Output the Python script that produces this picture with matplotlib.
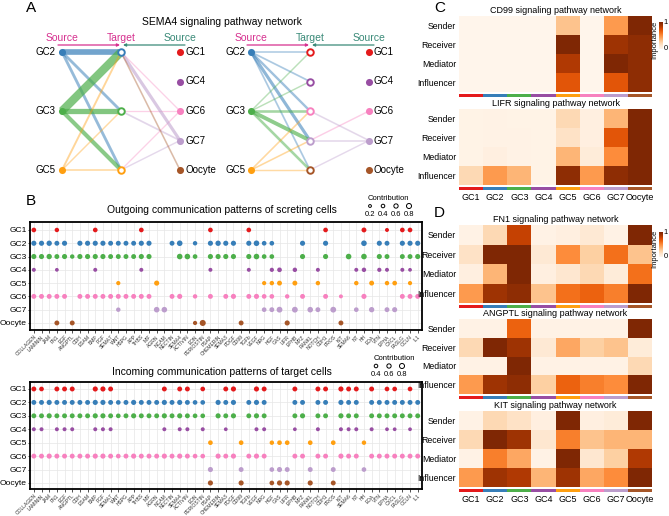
import numpy as np
import matplotlib
matplotlib.use("Agg")
import matplotlib.pyplot as plt

plt.rcParams['font.family'] = ['Liberation Sans', 'DejaVu Sans']

W, H = 669, 516
fig = plt.figure(figsize=(W / 100, H / 100), dpi=100)

# ---------------- data ----------------
cells = ["GC1", "GC2", "GC3", "GC4", "GC5", "GC6", "GC7", "Oocyte"]
cell_colors = ["#e41a1c", "#377eb8", "#4daf4a", "#984ea3", "#ff9f10", "#f781bf", "#bc9dcc", "#a65628"]
roles = ["Sender", "Receiver", "Mediator", "Influencer"]

# Panel A: SEMA4 hierarchy networks (source, target, relative weight)
net1_targets = ["GC2", "GC3", "GC5"]
net1_src = ["GC2", "GC2", "GC2", "GC3", "GC3", "GC3", "GC5", "GC5", "GC5",
            "GC6", "GC6", "GC6", "GC7", "GC7", "GC7", "Oocyte"]
net1_tgt = ["GC2", "GC3", "GC5", "GC2", "GC3", "GC5", "GC2", "GC3", "GC5",
            "GC2", "GC3", "GC5", "GC2", "GC3", "GC5", "GC2"]
net1_w = [0.65, 0.28, 0.28, 1.0, 0.6, 0.45, 0.16, 0.1, 0.12,
          0.08, 0.08, 0.08, 0.32, 0.14, 0.1, 0.12]

net2_targets = ["GC1", "GC4", "GC6", "GC7", "Oocyte"]
net2_src = ["GC2", "GC2", "GC2", "GC2", "GC2", "GC3", "GC3", "GC3", "GC3", "GC3",
            "GC5", "GC5", "GC5", "GC6", "GC7", "GC7", "GC7"]
net2_tgt = ["GC1", "GC4", "GC6", "GC7", "Oocyte", "GC1", "GC4", "GC6", "GC7", "Oocyte",
            "GC6", "GC7", "Oocyte", "GC7", "GC6", "GC7", "Oocyte"]
net2_w = [0.12, 0.14, 0.22, 0.32, 0.14, 0.1, 0.1, 0.25, 0.42, 0.25,
          0.12, 0.12, 0.1, 0.1, 0.12, 0.12, 0.1]

left_sources = ["GC2", "GC3", "GC5"]
right_sources = ["GC1", "GC4", "GC6", "GC7", "Oocyte"]

# Panel B: pathways
pathways = ["COLLAGEN", "LAMININ", "JAM", "FN1", "EGF", "ANGPTL", "CDH", "ESAM", "BMP", "FGF",
            "SEMA7", "WNT", "HSPG", "APP", "THBS", "MIF", "AGRN", "NCAM", "NECTIN", "SEMA4",
            "ACTIVIN", "EDN", "PERIOSTIN", "PSAP", "CHEMERIN", "SEMA3", "PDGF", "CD99", "TGFb", "VEGF",
            "NRG", "HGF", "GAS", "LIFR", "EPHB", "MPZ", "RANKL", "NOTCH", "CDH1", "PROS",
            "KIT", "SEMA6", "NT", "HH", "EDA", "VTN", "EPHA", "CXCL", "FASLG", "OCLN", "IL1"]

out_GC1 = {0: .45, 3: .4, 8: .45, 14: .45, 23: .45, 28: .45, 38: .45, 43: .5, 46: .3, 48: .45, 49: .45}
out_GC2 = {0: .55, 1: .55, 2: .6, 3: .5, 4: .55, 6: .55, 7: .55, 8: .55, 9: .55, 10: .5, 11: .5,
           12: .5, 13: .5, 14: .55, 15: .55, 18: .5, 19: .65, 21: .4, 23: .55, 24: .6, 25: .55,
           26: .55, 28: .55, 29: .65, 30: .45, 31: .45, 35: .55, 38: .55, 43: .65, 45: .55,
           46: .5, 48: .55, 49: .55, 50: .55}
out_GC3 = {0: .55, 1: .55, 2: .6, 3: .5, 4: .55, 5: .4, 6: .55, 7: .55, 8: .55, 9: .55, 10: .5,
           11: .5, 12: .5, 13: .5, 14: .55, 15: .55, 19: .65, 20: .65, 21: .45, 23: .55, 24: .55,
           25: .55, 26: .55, 28: .55, 29: .65, 30: .45, 31: .45, 35: .55, 38: .55, 41: .65,
           43: .65, 45: .55, 46: .5, 48: .5, 49: .5, 50: .55}
out_GC4 = {0: .3, 3: .25, 8: .3, 14: .3, 23: .3, 28: .3, 31: .35, 32: .45, 34: .4, 37: .3,
           42: .3, 43: .4, 45: .35, 46: .3, 48: .3, 49: .25}
out_GC5 = {11: .35, 16: .55, 30: .35, 31: .4, 32: .5, 34: .5, 37: .4, 42: .4, 44: .5, 46: .4,
           47: .45, 49: .35}
out_GC6 = {0: .5, 1: .5, 2: .5, 3: .5, 4: .5, 6: .5, 7: .5, 8: .5, 9: .5, 10: .5, 11: .5,
           12: .5, 13: .5, 14: .5, 15: .5, 18: .5, 19: .55, 21: .4, 23: .5, 25: .5, 26: .55,
           28: .5, 29: .55, 30: .45, 31: .45, 33: .4, 35: .5, 38: .5, 40: .3, 43: .55, 48: .5,
           49: .5, 50: .5}
out_GC7 = {11: .4, 16: .65, 17: .65, 30: .45, 31: .5, 32: .7, 34: .7, 36: .65, 37: .5, 39: .7,
           42: .45, 44: .6, 46: .5, 47: .55}
out_Oocyte = {3: .5, 5: .5, 21: .35, 22: .75, 27: .5, 33: .55, 40: .5}

in_GC1 = {0: .5, 1: .45, 3: .5, 4: .5, 5: .5, 8: .55, 9: .55, 10: .5, 17: .5, 19: .5, 20: .5,
          22: .45, 25: .5, 26: .55, 29: .55, 30: .5, 34: .5, 37: .5, 38: .5, 40: .55, 41: .5,
          42: .5, 44: .5, 46: .45, 47: .45, 49: .45}
in_GC2 = {0: .5, 1: .5, 2: .55, 3: .5, 4: .5, 5: .5, 6: .5, 7: .5, 8: .55, 9: .55, 10: .5,
          11: .45, 12: .5, 13: .55, 14: .5, 15: .5, 16: .5, 17: .55, 18: .5, 19: .55, 20: .5,
          21: .45, 22: .45, 24: .55, 25: .5, 26: .55, 28: .5, 29: .55, 30: .5, 34: .5, 35: .5,
          37: .5, 38: .5, 40: .55, 41: .5, 42: .5, 44: .5, 45: .5, 46: .5, 47: .5, 48: .5,
          49: .5, 50: .5}
in_GC3 = {0: .5, 1: .5, 2: .55, 3: .5, 4: .5, 5: .5, 6: .5, 7: .5, 8: .55, 9: .55, 10: .5,
          11: .45, 12: .5, 13: .55, 14: .5, 15: .5, 16: .5, 17: .55, 18: .5, 19: .55, 20: .5,
          21: .45, 22: .45, 24: .55, 25: .5, 26: .55, 28: .5, 29: .55, 30: .5, 34: .5, 35: .55,
          37: .5, 38: .5, 40: .55, 41: .5, 42: .5, 44: .5, 45: .5, 46: .5, 47: .5, 48: .5,
          49: .5, 50: .5}
in_GC4 = {0: .3, 1: .3, 3: .3, 4: .3, 5: .3, 8: .3, 9: .3, 10: .3, 17: .3, 19: .3, 20: .3,
          22: .3, 25: .25, 29: .3, 30: .3, 34: .25, 37: .3, 40: .3, 41: .3, 42: .3, 44: .3,
          46: .25, 47: .25, 49: .25}
in_GC5 = {23: .45, 27: .45, 31: .4, 32: .45, 33: .45, 36: .45, 39: .45, 43: .4}
in_GC6 = {0: .5, 1: .5, 2: .55, 3: .5, 4: .5, 5: .5, 6: .5, 7: .5, 8: .55, 9: .55, 10: .5,
          11: .45, 12: .5, 13: .55, 14: .5, 15: .5, 16: .5, 17: .55, 18: .5, 19: .55, 20: .5,
          21: .45, 22: .45, 24: .55, 25: .5, 26: .55, 28: .5, 29: .55, 30: .5, 34: .5, 35: .5,
          37: .5, 38: .5, 40: .55, 41: .5, 42: .5, 44: .5, 45: .5, 46: .5, 47: .5, 48: .5,
          49: .5, 50: .5}
in_GC7 = {23: .55, 27: .5, 31: .45, 32: .55, 33: .5, 36: .5, 39: .5, 43: .45}
in_Oocyte = {23: .55, 27: .55, 31: .45, 32: .55, 33: .55, 36: .55, 39: .5}

outgoing = [out_GC1, out_GC2, out_GC3, out_GC4, out_GC5, out_GC6, out_GC7, out_Oocyte]
incoming = [in_GC1, in_GC2, in_GC3, in_GC4, in_GC5, in_GC6, in_GC7, in_Oocyte]

# Panel C / D heatmaps (rows: Sender, Receiver, Mediator, Influencer)
cd99 = [[0.0, 0.0, 0.0, 0.0, 0.3, 0.0, 0.45, 1.0],
        [0.0, 0.0, 0.0, 0.0, 1.0, 0.0, 0.9, 0.95],
        [0.0, 0.0, 0.0, 0.0, 0.85, 0.0, 1.0, 0.95],
        [0.0, 0.0, 0.0, 0.0, 0.7, 0.0, 0.7, 0.95]]
lifr = [[0.02, 0.03, 0.02, 0.02, 0.2, 0.05, 0.35, 1.0],
        [0.02, 0.03, 0.03, 0.02, 0.15, 0.05, 0.7, 1.0],
        [0.02, 0.05, 0.03, 0.02, 0.35, 0.08, 0.5, 1.0],
        [0.2, 0.45, 0.35, 0.02, 0.95, 0.45, 0.95, 1.0]]
fn1 = [[0.03, 0.2, 0.8, 0.03, 0.05, 0.1, 0.03, 1.0],
       [0.15, 1.0, 1.0, 0.1, 0.5, 0.25, 0.6, 0.3],
       [0.05, 0.35, 1.0, 0.05, 0.12, 0.2, 0.08, 0.6],
       [0.45, 0.9, 0.95, 0.3, 0.6, 0.65, 0.55, 1.0]]
angptl = [[0.03, 0.03, 0.65, 0.03, 0.03, 0.03, 0.03, 1.0],
          [0.2, 1.0, 0.9, 0.1, 0.4, 0.25, 0.3, 0.08],
          [0.03, 0.03, 1.0, 0.03, 0.03, 0.03, 0.03, 0.2],
          [0.45, 0.9, 0.95, 0.25, 0.65, 0.55, 0.5, 1.0]]
kit = [[0.03, 0.2, 0.15, 0.05, 1.0, 0.05, 0.08, 1.0],
       [0.2, 1.0, 0.9, 0.12, 0.55, 0.3, 0.35, 0.35],
       [0.03, 0.55, 0.4, 0.03, 1.0, 0.12, 0.25, 0.85],
       [0.45, 0.9, 0.85, 0.35, 0.9, 0.4, 0.5, 1.0]]

# ---------------- helpers ----------------
def add_ax(x0, y0, x1, y1, **kw):
    return fig.add_axes([x0 / W, 1 - y1 / H, (x1 - x0) / W, (y1 - y0) / H], **kw)

ov = fig.add_axes([0, 0, 1, 1], zorder=5)
ov.set_xlim(0, W)
ov.set_ylim(H, 0)
ov.axis('off')

color_of = dict(zip(cells, cell_colors))
MAG = "#d6308f"
TEAL = "#3a8a78"

def dot_d(v):
    return (2.6 + 4.6 * np.asarray(v)) * 0.72

# panel letters
for letter, (x, y) in zip("ABCD", [(26, 8), (26, 201), (434, 8), (434, 213)]):
    ov.text(x, y, letter, fontsize=11, ha='left', va='center')

# ---------------- Panel A ----------------
ov.text(222, 22, "SEMA4 signaling pathway network", fontsize=7.5, ha='center', va='center')

def draw_network(x0, targets, srcs, tgts, ws, hdr_colors):
    xl, xm, xr = x0, x0 + 59, x0 + 118
    ys3 = np.linspace(52, 170, 3)
    ys5 = np.linspace(52, 170, 5)
    lpos = {n: (xl, y) for n, y in zip(left_sources, ys3)}
    rpos = {n: (xr, y) for n, y in zip(right_sources, ys5)}
    ty = ys3 if len(targets) == 3 else ys5
    tpos = {n: (xm, y) for n, y in zip(targets, ty)}
    for s, t, w in zip(srcs, tgts, ws):
        p0 = lpos[s] if s in lpos else rpos[s]
        p1 = tpos[t]
        ov.plot([p0[0], p1[0]], [p0[1], p1[1]], color=color_of[s], lw=0.5 + w * 5.5,
                alpha=0.3 + 0.4 * min(w * 2, 1), solid_capstyle='butt', zorder=1)
    for n, (x, y) in lpos.items():
        ov.scatter([x], [y], s=26, color=color_of[n], zorder=3, linewidths=0)
        ov.text(x - 6, y, n, ha='right', va='center', fontsize=7)
    for n, (x, y) in rpos.items():
        ov.scatter([x], [y], s=26, color=color_of[n], zorder=3, linewidths=0)
        ov.text(x + 5, y, n, ha='left', va='center', fontsize=7)
    for n, (x, y) in tpos.items():
        ov.scatter([x], [y], s=22, facecolor='white', edgecolor=color_of[n], linewidths=1.4, zorder=3)
    ov.text(xl, 38, "Source", color=hdr_colors[0], fontsize=7.5, ha='center', va='center')
    ov.text(xm, 38, "Target", color=hdr_colors[1], fontsize=7.5, ha='center', va='center')
    ov.text(xr, 38, "Source", color=hdr_colors[2], fontsize=7.5, ha='center', va='center')
    ov.annotate('', xy=(xm - 1, 45), xytext=(xl - 4, 45),
                arrowprops=dict(arrowstyle='-|>', color=hdr_colors[0], lw=0.9, mutation_scale=4,
                                shrinkA=0, shrinkB=0))
    ov.annotate('', xy=(xm + 2, 45), xytext=(xr + 5, 45),
                arrowprops=dict(arrowstyle='-|>', color=TEAL, lw=0.9, mutation_scale=4,
                                shrinkA=0, shrinkB=0))

draw_network(62, net1_targets, net1_src, net1_tgt, net1_w, [MAG, MAG, TEAL])
draw_network(251, net2_targets, net2_src, net2_tgt, net2_w, [MAG, TEAL, TEAL])

# ---------------- Panel B ----------------
def dot_panel(y0, y1, pad_top, pad_bot, data):
    ax = add_ax(30, y0, 422, y1)
    ax.set_xlim(-0.5, len(pathways) - 0.44)
    ax.set_ylim(len(cells) - 1 + pad_bot, -pad_top)
    for i, row in enumerate(data):
        xs = list(row.keys())
        vs = np.array(list(row.values()))
        ax.scatter(xs, [i] * len(xs), s=dot_d(vs) ** 2, color=cell_colors[i], linewidths=0,
                   zorder=3, clip_on=False)
    ax.set_xticks(np.arange(len(pathways)))
    ax.set_xticklabels(pathways, rotation=45, ha='right', rotation_mode='anchor', fontsize=3.6,
                       color='#333333')
    ax.set_yticks(np.arange(len(cells)))
    ax.set_yticklabels(cells, fontsize=6.1)
    ax.tick_params(axis='x', length=2, width=0.6, pad=1.2, color='#333333')
    ax.tick_params(axis='y', length=1.6, width=0.6, pad=0.5, color='#333333')
    ax.grid(True, color='#e6e6e6', lw=0.5, zorder=0)
    ax.set_axisbelow(True)
    for sp in ax.spines.values():
        sp.set_linewidth(1.3)
    return ax

dot_panel(222, 330, 0.6, 0.53, outgoing)
dot_panel(382, 489, 0.52, 0.45, incoming)

ov.text(222, 210, "Outgoing communication patterns of screting cells", fontsize=7.5,
        ha='center', va='center')
ov.text(222, 372, "Incoming communication patterns of target cells", fontsize=7.5,
        ha='center', va='center')

def size_legend(x0, y0, vals):
    ov.text(x0 + 22, y0, "Contribution", fontsize=5.5, ha='center', va='center')
    for k, v in enumerate(vals):
        x = x0 + 4 + k * 13
        ov.scatter([x], [y0 + 8], s=(dot_d(v) * 0.8) ** 2, facecolor='none', edgecolor='black',
                   linewidths=0.7)
        ov.text(x, y0 + 16, f"{v:.1f}", fontsize=5.5, ha='center', va='center')

size_legend(366, 198, [0.2, 0.4, 0.6, 0.8])
size_legend(372, 358, [0.4, 0.6, 0.8])

# ---------------- Panels C / D ----------------
cmap = plt.cm.Oranges

def heat(top, bot, data, title, show_xt):
    ax = add_ax(459, top, 652, bot)
    ax.pcolormesh(np.array(data), cmap=cmap, vmin=0, vmax=1)
    ax.set_xlim(0, 8)
    ax.set_ylim(4, 0)
    ax.set_yticks(np.arange(4) + 0.5)
    ax.set_yticklabels(roles, fontsize=6.3)
    ax.set_xticks([])
    ax.tick_params(length=0, pad=2)
    for sp in ax.spines.values():
        sp.set_visible(False)
    st = add_ax(459, bot + 1.5, 652, bot + 5)
    st.bar(np.arange(8), 1, width=1, align='edge', color=cell_colors)
    st.set_xlim(0, 8)
    st.set_ylim(0, 1)
    st.axis('off')
    ov.text(555.5, top - 5.5, title, fontsize=6.5, ha='center', va='center')
    if show_xt:
        for k, c in enumerate(cells):
            ov.text(459 + (k + 0.5) * (652 - 459) / 8, bot + 12.5, c, fontsize=6.5,
                    ha='center', va='center')

heat(16, 92, cd99, "CD99 signaling pathway network", False)
heat(109, 185, lifr, "LIFR signaling pathway network", True)
heat(225, 303, fn1, "FN1 signaling pathway network", False)
heat(319, 394, angptl, "ANGPTL signaling pathway network", False)
heat(411, 487, kit, "KIT signaling pathway network", True)

def cbar(y0, y1):
    cax = add_ax(659, y0, 662.5, y1)
    cax.imshow(np.linspace(1, 0, 60)[:, None], aspect='auto', cmap=cmap)
    cax.axis('off')
    ov.text(663.5, y0 + 1, "1", fontsize=5.5, ha='left', va='center')
    ov.text(663.5, y1, "0", fontsize=5.5, ha='left', va='center')
    ov.text(655, (y0 + y1) / 2 + 4, "Importance", fontsize=5.5, rotation=90, ha='center', va='center')

cbar(22, 49)
cbar(232, 257)

fig.savefig("out.png", dpi=100)
